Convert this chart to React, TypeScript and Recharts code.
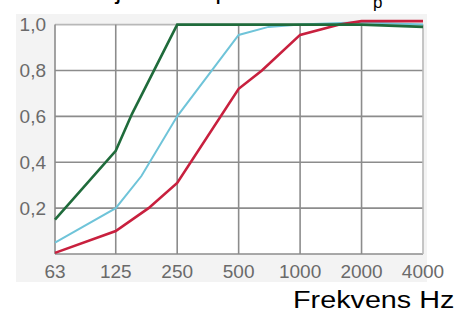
import { LineChart, Line, XAxis, YAxis, ReferenceArea, ReferenceLine } from "recharts";

// frekvensband (Hz) och tick-värden
const bands = [63, 125, 250, 500, 1000, 2000, 4000];
const yTicks = [0.2, 0.4, 0.6, 0.8, 1.0];
const yGrid = [0, 0.2, 0.4, 0.6, 0.8, 1.0];

// grön kurva
const greenFreq = [63, 125, 150, 250, 500, 1000, 2000, 4000];
const greenAlpha = [0.15, 0.45, 0.61, 1.0, 1.0, 1.0, 1.0, 0.99];

// ljusblå kurva
const blueFreq = [63, 125, 167, 250, 500, 700, 1000, 2000, 4000];
const blueAlpha = [0.05, 0.2, 0.34, 0.6, 0.955, 0.99, 1.0, 1.01, 1.0];

// röd kurva
const redFreq = [63, 125, 181, 250, 500, 650, 1000, 1560, 2000, 4000];
const redAlpha = [0.005, 0.1, 0.2, 0.31, 0.72, 0.8, 0.955, 1.0, 1.015, 1.015];

const toRows = (freq: number[], alpha: number[]) => freq.map((f, i) => ({ f, a: alpha[i] }));

const gridDark = "#8c8c8c";
const gridLight = "#b8b8b8";
const tickStyle = { fontSize: 19, fill: "#6a6a6a", fontFamily: "Liberation Sans, Arial, sans-serif" };

export default function App() {
  const first = bands[0];
  const last = bands[bands.length - 1];

  return (
    <div style={{ position: "absolute", left: 0, top: 0, width: 460, height: 315, background: "#fff", overflow: "hidden" }}>
      <div style={{ position: "absolute", left: 16, top: 14, width: 411, height: 268, background: "#f3f3f3" }} />
      <div style={{ position: "absolute", left: 0, top: 0 }}>
        <LineChart width={460} height={315} margin={{ top: 20, right: 37, bottom: 31, left: 16 }}>
          <XAxis
            dataKey="f"
            type="number"
            scale="log"
            domain={[first, last]}
            ticks={bands}
            interval={0}
            axisLine={false}
            tickLine={false}
            tickSize={0}
            tickMargin={11}
            height={30}
            tick={tickStyle}
            tickFormatter={(v) => String(v)}
          />
          <YAxis
            type="number"
            domain={[0, 1.02]}
            ticks={yTicks}
            axisLine={false}
            tickLine={false}
            tickSize={0}
            tickMargin={9}
            width={39}
            tick={tickStyle}
            tickFormatter={(v) => Number(v).toFixed(1).replace(".", ",")}
          />
          <ReferenceArea x1={first} x2={last} y1={0} y2={1} fill="#fff" fillOpacity={1} stroke="none" />
          {yGrid.map((v) => (
            <ReferenceLine
              key={`h${v}`}
              y={v}
              stroke={v === 1 ? gridLight : gridDark}
              strokeWidth={1.6}
            />
          ))}
          {bands.map((f) => (
            <ReferenceLine
              key={`v${f}`}
              segment={[{ x: f, y: 0 }, { x: f, y: 1 }]}
              stroke={f === last ? gridLight : gridDark}
              strokeWidth={1.6}
            />
          ))}
          <Line data={toRows(blueFreq, blueAlpha)} dataKey="a" type="linear" stroke="#6fc4d9" strokeWidth={2} dot={false} isAnimationActive={false} />
          <Line data={toRows(redFreq, redAlpha)} dataKey="a" type="linear" stroke="#c8203e" strokeWidth={2.6} dot={false} isAnimationActive={false} />
          <Line data={toRows(greenFreq, greenAlpha)} dataKey="a" type="linear" stroke="#1f6b3b" strokeWidth={2.6} dot={false} isAnimationActive={false} />
        </LineChart>
      </div>
      <svg width={460} height={315} style={{ position: "absolute", left: 0, top: 0, pointerEvents: "none" }}>
        <text x={372} y={-1} textAnchor="end" fontSize={26} fontFamily="Liberation Sans, Arial, sans-serif" fill="#000">
          Ljudabsorptionsfaktor α
        </text>
        <text x={373} y={8} fontSize={17} fontFamily="Liberation Sans, Arial, sans-serif" fill="#000">
          p
        </text>
      </svg>
      <div
        style={{
          position: "absolute",
          left: 293,
          top: 287,
          fontSize: 23,
          fontFamily: "Liberation Sans, Arial, sans-serif",
          color: "#000",
          whiteSpace: "nowrap",
          transform: "scaleX(1.25)",
          transformOrigin: "left top",
          lineHeight: "26px",
        }}
      >
        Frekvens Hz
      </div>
    </div>
  );
}
